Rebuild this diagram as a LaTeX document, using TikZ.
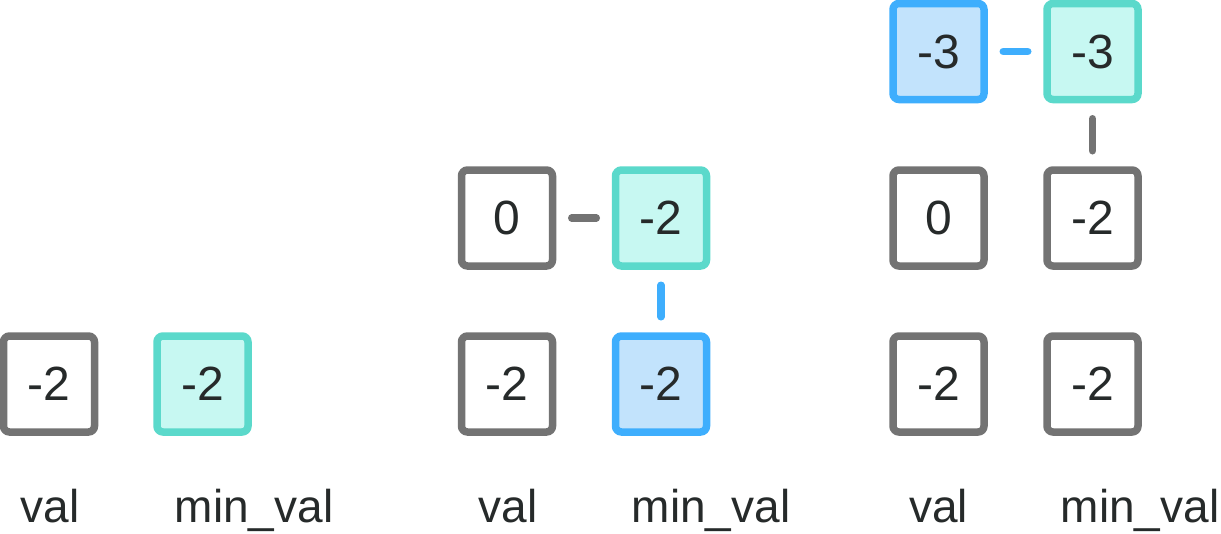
\documentclass[tikz,border=0pt]{standalone}
\usepackage{fontspec}
\setmainfont{Liberation Sans}
\begin{document}
\definecolor{boxgray}{HTML}{737373}
\definecolor{tealline}{HTML}{5BD9CB}
\definecolor{tealfill}{HTML}{C7F8F2}
\definecolor{blueline}{HTML}{3EAEFD}
\definecolor{bluefill}{HTML}{C2E3FC}
\definecolor{ink}{HTML}{262A2A}
\begin{tikzpicture}[x=1pt,y=-1pt,
  cell/.style={draw=boxgray, fill=white, line width=7.5pt, rounded corners=6pt,
    minimum width=91pt, minimum height=96pt, inner sep=0pt,
    text=ink, font=\fontsize{48}{48}\selectfont},
  mincell/.style={cell, draw=tealline, fill=tealfill},
  newcell/.style={cell, draw=blueline, fill=bluefill},
  link/.style={line width=7.5pt, line cap=round, shorten <=15.5pt, shorten >=15.5pt},
  graylink/.style={link, draw=boxgray},
  bluelink/.style={link, draw=blueline},
  caption/.style={anchor=base, inner sep=0pt, text=ink, font=\fontsize{46}{46}\selectfont}]
\useasboundingbox (0,0) rectangle (1221,533);

% step 1: a single value
\node[cell]    (v1a) at (49,384) {-2};
\node[mincell] (m1a) at (202.5,384) {-2};
\node[caption] (lv1) at (50,522) {val};
\node[caption] (lm1) at (254,522) {min\_val};

% step 2: push 0
\node[cell]    (v2a) at (507,384) {-2};
\node[cell]    (v2b) at (507,218) {0};
\node[newcell] (m2a) at (661,384) {-2};
\node[mincell] (m2b) at (661,218) {-2};
\draw[graylink] (v2b.east) -- (m2b.west);
\draw[bluelink] (m2b.south) -- (m2a.north);
\node[caption] (lv2) at (508,522) {val};
\node[caption] (lm2) at (711,522) {min\_val};

% step 3: push -3
\node[cell]    (v3a) at (938.5,384) {-2};
\node[cell]    (v3b) at (938.5,218) {0};
\node[newcell] (v3c) at (938.5,51.5) {-3};
\node[cell]    (m3a) at (1092.5,384) {-2};
\node[cell]    (m3b) at (1092.5,218) {-2};
\node[mincell] (m3c) at (1092.5,51.5) {-3};
\draw[bluelink] (v3c.east) -- (m3c.west);
\draw[graylink] (m3c.south) -- (m3b.north);
\node[caption] (lv3) at (938.5,522) {val};
\node[caption] (lm3) at (1140,522) {min\_val};
\end{tikzpicture}
\end{document}
